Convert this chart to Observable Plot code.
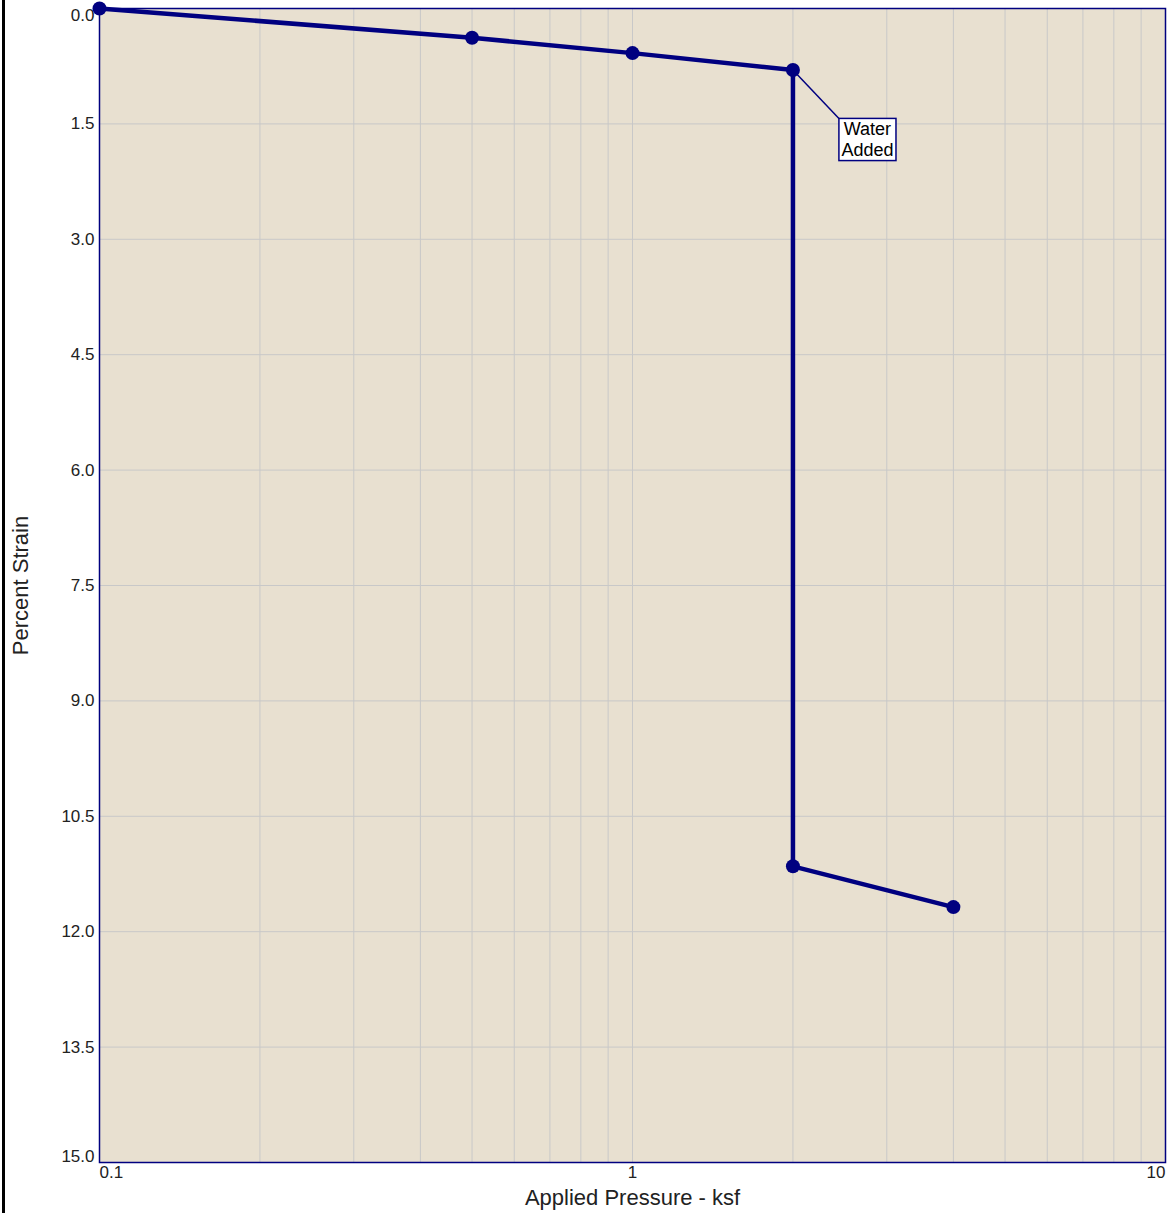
<!DOCTYPE html>
<html>
<head>
<meta charset="utf-8">
<script src="https://cdn.jsdelivr.net/npm/d3@7"></script>
<script src="https://cdn.jsdelivr.net/npm/@observablehq/plot@0.6"></script>
<style>
  html, body { margin: 0; padding: 0; background: #fff; }
  #wrap { position: relative; width: 1169px; height: 1213px; }
  #bar { position: absolute; left: 2px; top: 0; width: 3px; height: 1213px; background: #000; }
  #chart svg { display: block; }
</style>
</head>
<body>
<div id="wrap"><div id="bar"></div><div id="chart"></div></div>
<script>
// Data
const pressure = [0.1, 0.5, 1, 2, 2, 4];          // ksf
const strain   = [0.0, 0.38, 0.58, 0.80, 11.15, 11.68]; // percent
const yTicks = [0, 1.5, 3, 4.5, 6, 7.5, 9, 10.5, 12, 13.5, 15];
const xMajor = [0.1, 1, 10];
const xMinor = [0.2, 0.3, 0.4, 0.5, 0.6, 0.7, 0.8, 0.9, 2, 3, 4, 5, 6, 7, 8, 9];
const annotation = {pressure: 2, strain: 0.80, text: "Water\nAdded"};

const data = pressure.map((p, i) => ({p, s: strain[i]}));
const navy = "#000080";
const font = "'Liberation Sans', Arial, Helvetica, sans-serif";
const tickFont = 17;

const chart = Plot.plot({
  width: 1169,
  height: 1213,
  marginLeft: 99,
  marginRight: 4,
  marginTop: 8,
  marginBottom: 51,
  style: {fontFamily: font, fontSize: "17px", color: "#222", background: "#fff"},
  x: {type: "log", domain: [0.1, 10]},
  y: {domain: [0, 15], reverse: true},
  marks: [
    Plot.frame({fill: "#e8e0d0", stroke: "none"}),
    Plot.gridX([...xMajor, ...xMinor], {stroke: "#c8c8c8", strokeOpacity: 1, strokeWidth: 1}),
    Plot.gridY(yTicks, {stroke: "#c8c8c8", strokeOpacity: 1, strokeWidth: 1}),
    Plot.frame({stroke: navy, strokeWidth: 1.5}),
    // y tick labels
    Plot.axisY(yTicks.slice(1, -1), {tickSize: 0, tickPadding: 5, tickFormat: d => d.toFixed(1), label: null, fontSize: tickFont}),
    Plot.axisY([yTicks[0]], {tickSize: 0, tickPadding: 5, tickFormat: d => d.toFixed(1), label: null, dy: 7, fontSize: tickFont}),
    Plot.axisY([yTicks[yTicks.length - 1]], {tickSize: 0, tickPadding: 5, tickFormat: d => d.toFixed(1), label: null, dy: -6, fontSize: tickFont}),
    // x tick labels
    Plot.axisX([xMajor[0]], {tickSize: 0, tickPadding: 3, tickFormat: d => String(d), label: null, textAnchor: "start", fontSize: tickFont}),
    Plot.axisX([xMajor[1]], {tickSize: 0, tickPadding: 3, tickFormat: d => String(d), label: null, fontSize: tickFont}),
    Plot.axisX([xMajor[2]], {tickSize: 0, tickPadding: 3, tickFormat: d => String(d), label: null, textAnchor: "end", fontSize: tickFont}),
    // axis titles
    Plot.text(["Applied Pressure - ksf"], {frameAnchor: "bottom", dy: 35, lineAnchor: "middle", textAnchor: "middle", fontSize: 22, fill: "#222"}),
    Plot.text(["Percent Strain"], {frameAnchor: "left", rotate: -90, dx: -79, lineAnchor: "middle", textAnchor: "middle", fontSize: 22, fill: "#222"}),
    // data
    Plot.line(data, {x: "p", y: "s", stroke: navy, strokeWidth: 4.5, strokeLinejoin: "round"}),
    Plot.dot(data, {x: "p", y: "s", r: 7, fill: navy, stroke: "none"}),
    // annotation text
    Plot.text([annotation], {x: "pressure", y: "strain", text: "text", dx: 74.5, dy: 69, fontSize: 18, lineHeight: 1.12, fill: "#000", className: "annot"})
  ]
});

document.getElementById("chart").appendChild(chart);

// Box and leader for the annotation
const xs = chart.scale("x"), ys = chart.scale("y");
const px = xs.apply(annotation.pressure), py = ys.apply(annotation.strain);
const g = chart.querySelector("g.annot");
const t = g.querySelector("text");
const bb = t.getBBox();
function parseT(s) {
  if (!s) return [0, 0];
  const m = s.match(/translate\(([-\d.]+)[,\s]+([-\d.]+)\)/);
  return m ? [+m[1], +m[2]] : [0, 0];
}
const [tx, ty] = parseT(t.getAttribute("transform"));
const [gx, gy] = parseT(g.getAttribute("transform"));
const padX = 2.5, padY = 1;
const bx = bb.x + tx + gx - padX, by = bb.y + ty + gy - padY;
const bw = bb.width + 2 * padX, bh = bb.height + 2 * padY;
const ns = "http://www.w3.org/2000/svg";
const line = document.createElementNS(ns, "line");
line.setAttribute("x1", px); line.setAttribute("y1", py);
line.setAttribute("x2", bx); line.setAttribute("y2", by);
line.setAttribute("stroke", navy); line.setAttribute("stroke-width", 1.5);
const rect = document.createElementNS(ns, "rect");
rect.setAttribute("x", bx); rect.setAttribute("y", by);
rect.setAttribute("width", bw); rect.setAttribute("height", bh);
rect.setAttribute("fill", "#fff"); rect.setAttribute("stroke", navy); rect.setAttribute("stroke-width", 1.5);
g.parentNode.insertBefore(line, g);
g.parentNode.insertBefore(rect, g);
</script>
</body>
</html>
